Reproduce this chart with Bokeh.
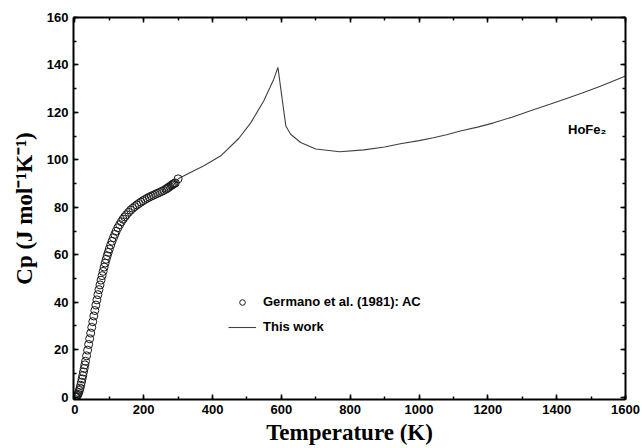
from bokeh.plotting import figure
from bokeh.models import Range1d, LinearAxis, Legend, LegendItem, Label, FixedTicker
from bokeh.embed import file_html
from bokeh.resources import INLINE

# Germano et al. (1981): AC  (experimental points)
germ_T = [1, 3, 5, 7, 9, 11, 13, 15, 17, 19, 21, 23, 25, 27, 29, 31, 34, 37, 40, 43,
          46, 49, 52, 55, 58, 61, 64, 67, 70, 73, 76, 79, 82, 85, 88, 91, 94, 97, 100,
          104, 108, 112, 116, 120, 125, 130, 135, 140, 145, 150, 156, 162, 168, 174,
          180, 186, 192, 198, 204, 210, 216, 222, 228, 234, 240, 246, 252, 258, 264,
          268, 272, 276, 280, 283, 286, 289, 292, 300]
germ_Cp = [0.0, 0.1, 0.3, 0.7, 1.2, 1.9, 2.8, 3.8, 5.0, 6.3, 7.7, 9.1, 10.6, 12.1, 13.6,
           15.1, 17.4, 19.8, 22.2, 24.6, 27.0, 29.4, 31.8, 34.2, 36.5, 38.8, 41.0, 43.2,
           45.3, 47.3, 49.3, 51.2, 53.0, 54.8, 56.5, 58.1, 59.6, 61.0, 62.4, 64.1, 65.7,
           67.2, 68.6, 69.9, 71.4, 72.7, 73.9, 75.0, 76.0, 76.9, 77.9, 78.8, 79.6, 80.3,
           81.0, 81.6, 82.2, 82.8, 83.3, 83.8, 84.3, 84.7, 85.1, 85.5, 85.9, 86.3, 86.7,
           87.1, 87.6, 88.0, 88.4, 88.8, 89.2, 89.5, 89.8, 90.1, 90.3, 92.0]

# This work (calculated curve)
calc_T = [300, 340, 375, 424, 476, 511, 549, 578, 590, 602, 613, 627, 656, 700, 770,
          840, 900, 946, 1000, 1042, 1080, 1120, 1170, 1217, 1270, 1324, 1380, 1431,
          1480, 1527, 1570, 1600]
calc_Cp = [92.0, 95.0, 97.5, 101.7, 109.0, 115.6, 124.9, 134.0, 139.0, 126.0, 114.3,
           110.8, 107.3, 104.6, 103.4, 104.2, 105.4, 106.8, 108.1, 109.3, 110.6, 112.2,
           113.8, 115.6, 118.0, 120.7, 123.4, 126.0, 128.5, 131.0, 133.6, 135.3]

x_ticks = [0, 200, 400, 600, 800, 1000, 1200, 1400, 1600]
y_ticks = [0, 20, 40, 60, 80, 100, 120, 140, 160]

p = figure(width=642, height=448, output_backend="svg", toolbar_location=None,
           x_range=Range1d(-4, 1600), y_range=Range1d(-1, 160),
           min_border_left=73, min_border_right=17, min_border_top=17,
           min_border_bottom=49, x_axis_location=None, y_axis_location=None)
p.background_fill_color = "white"
p.border_fill_color = "white"
p.outline_line_color = None
p.xgrid.visible = False
p.ygrid.visible = False

def style(ax, labels=True):
    ax.axis_line_width = 2
    ax.axis_line_color = "black"
    ax.major_tick_in = 5
    ax.major_tick_out = 0
    ax.minor_tick_in = 3
    ax.minor_tick_out = 0
    ax.major_tick_line_color = "black"
    ax.minor_tick_line_color = "black"
    ax.major_tick_line_width = 1.5
    ax.minor_tick_line_width = 1.5
    ax.major_label_text_font = "Liberation Sans"
    ax.major_label_text_font_style = "bold"
    ax.major_label_text_font_size = "13px"
    ax.major_label_text_color = "black"
    if not labels:
        ax.major_label_text_alpha = 0
        ax.major_label_text_font_size = "0px"

xt = FixedTicker(ticks=x_ticks, minor_ticks=list(range(0, 1601, 100)))
yt = FixedTicker(ticks=y_ticks, minor_ticks=list(range(0, 161, 10)))

xb = LinearAxis(ticker=xt, axis_label="Temperature (K)")
xb.major_label_standoff = 5
xb.axis_label_text_font = "Liberation Serif"
xb.axis_label_text_font_style = "bold"
xb.axis_label_text_font_size = "23px"
xb.axis_label_text_color = "black"
xb.axis_label_standoff = 3
style(xb)
p.add_layout(xb, "below")

yl = LinearAxis(ticker=yt, axis_label="Cp (J mol\u207b\u00b9K\u207b\u00b9)")
yl.major_label_standoff = 5
yl.axis_label_text_font = "Liberation Serif"
yl.axis_label_text_font_style = "bold"
yl.axis_label_text_font_size = "23px"
yl.axis_label_text_color = "black"
yl.axis_label_standoff = 7
style(yl)
p.add_layout(yl, "left")

xa = LinearAxis(ticker=xt)
style(xa, labels=False)
p.add_layout(xa, "above")
yr = LinearAxis(ticker=yt)
style(yr, labels=False)
p.add_layout(yr, "right")

ln = p.line(calc_T, calc_Cp, line_color="#404040", line_width=1.1)
sc = p.scatter(germ_T, germ_Cp, marker="circle", size=8, line_color="#1a1a1a",
               fill_color="white", fill_alpha=0.0, line_width=1)

legend = Legend(items=[LegendItem(label="Germano et al. (1981): AC", renderers=[sc]),
                       LegendItem(label="This work", renderers=[ln])],
                location=(155, 65), border_line_alpha=0, background_fill_alpha=0,
                label_text_font="Liberation Sans", label_text_font_style="bold",
                label_text_font_size="13px", label_text_color="black",
                glyph_width=28, glyph_height=14,
                spacing=10, padding=0, label_standoff=7)
p.add_layout(legend, "center")

p.add_layout(Label(x=1433, y=109.5, text="HoFe\u2082", text_font="Liberation Sans",
                   text_font_style="bold", text_font_size="13px", text_color="black"))

open("out.html", "w").write(file_html(p, INLINE))
